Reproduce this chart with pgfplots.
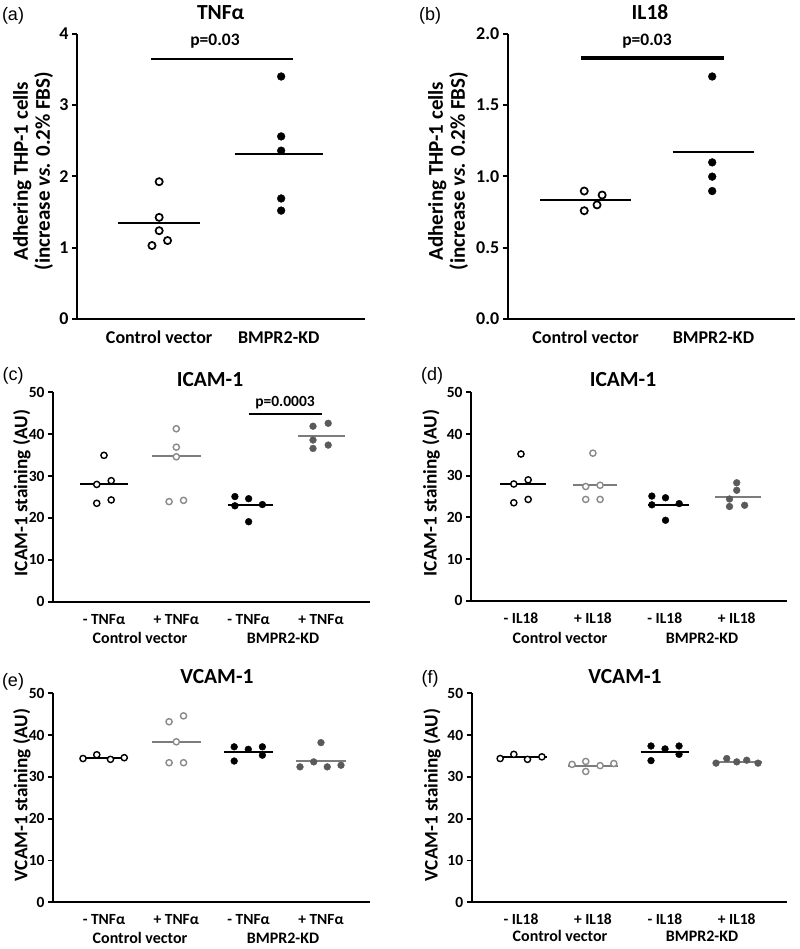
\documentclass[border=0pt]{standalone}
\usepackage{pgfplots}
\pgfplotsset{compat=1.18}
\usepackage{fontspec}
\setmainfont{Carlito}
\newfontfamily\lab{Liberation Sans}
\definecolor{og}{HTML}{8A8A8A}
\definecolor{fg}{HTML}{5A5A5A}
\definecolor{gl}{HTML}{7C7C7C}
\newcommand\fs[1]{\fontsize{#1bp}{#1bp}\selectfont}
\begin{document}
\begin{tikzpicture}
\useasboundingbox (0,0) rectangle (800bp,-949bp);
\pgfplotsset{
 panel/.style={scale only axis, anchor=south west, clip=false,
   axis x line*=bottom, axis y line*=left,
   axis line style={line width=2.2bp, black},
   tick align=outside, major tick length=5bp,
   ytick style={line width=1.8bp, black},
   xtick style={draw=none},
   /pgf/number format/assume math mode=true,
   ymin=0},
 top/.style={panel, width=288bp, height=285.3bp, xtick={1,2},
   xticklabels={Control vector,BMPR2-KD},
   tick label style={font=\bfseries\fs{18}},
   xticklabel style={anchor=base, inner sep=0pt, yshift=-19.3bp}},
 bot/.style={panel, xtick={1,2,3,4}, ymax=50, ytick={0,10,...,50},
   yticklabel style={font=\bfseries\fs{15.5}},
   xticklabel style={font=\bfseries\fs{15.5}, anchor=base, inner sep=0pt, yshift=-17.5bp}},
 ob/.style={only marks, mark=*, mark size=3.1bp, mark options={draw=black, fill=white, line width=1.4bp}},
 obig/.style={only marks, mark=*, mark size=3.6bp, mark options={draw=black, fill=white, line width=1.7bp}},
 og/.style={only marks, mark=*, mark size=3.1bp, mark options={draw=og, fill=white, line width=1.4bp}},
 fb/.style={only marks, mark=*, mark size=#1, mark options={draw=black, fill=black}},
 fb/.default=3.4bp,
 fg/.style={only marks, mark=*, mark size=3.4bp, mark options={draw=fg, fill=fg}},
 ml/.style={line width=2bp, black},
 mg/.style={line width=2bp, gl},
}
% ---------------- (a)
\begin{axis}[top, at={(77bp,-319bp)}, xmin=0.313, xmax=2.721, ymax=4, ytick={0,1,2,3,4}]
\addplot[ml] coordinates {(0.658,1.346) (1.341,1.346)};
\addplot[ml] coordinates {(1.636,2.31) (2.367,2.31)};
\addplot[ml] coordinates {(0.931,3.65) (2.116,3.65)};
\addplot[obig] coordinates {(1.0,1.925) (1.0,1.425) (1.0,1.238) (0.94,1.03) (1.07,1.10)};
\addplot[fb=3.9bp] coordinates {(2.02,3.40) (2.02,2.56) (2.02,2.36) (2.02,1.69) (2.02,1.52)};
\end{axis}
% ---------------- (b)
\begin{axis}[top, at={(507.7bp,-319bp)}, width=287.3bp, xmin=0.392, xmax=2.637, ymax=2, ytick={0,0.5,...,2},
  yticklabel style={/pgf/number format/.cd, fixed, fixed zerofill, precision=1}]
\addplot[ml] coordinates {(0.645,0.832) (1.355,0.832)};
\addplot[ml] coordinates {(1.681,1.173) (2.319,1.173)};
\addplot[line width=3.6bp, black] coordinates {(0.965,1.83) (2.084,1.83)};
\addplot[obig] coordinates {(0.99,0.897) (1.13,0.869) (1.09,0.80) (0.99,0.759)};
\addplot[fb=3.9bp] coordinates {(1.99,1.70) (1.99,1.098) (1.99,0.998) (1.99,0.897)};
\end{axis}
% ---------------- (c)
\begin{axis}[bot, at={(53bp,-601.7bp)}, width=317bp, height=209.4bp, xmin=0.295, xmax=4.678,
  xticklabels={{- TNFα},{+ TNFα},{- TNFα},{+ TNFα}}]
\addplot[ml] coordinates {(0.668,28.0) (1.327,28.0)};
\addplot[mg] coordinates {(1.659,34.7) (2.341,34.7)};
\addplot[ml] coordinates {(2.71,23.1) (3.332,23.1)};
\addplot[mg] coordinates {(3.686,39.5) (4.332,39.5)};
\addplot[line width=1.5bp, black] coordinates {(3.005,44.8) (4.014,44.8)};
\addplot[ob] coordinates {(1.0,34.95) (1.10,28.9) (0.90,28.0) (0.90,23.5) (1.10,24.3)};
\addplot[og] coordinates {(2.0,41.3) (2.0,36.9) (2.0,34.6) (1.90,23.9) (2.10,24.2)};
\addplot[fb] coordinates {(2.81,25.1) (3.0,24.6) (2.81,22.9) (3.19,23.2) (3.0,19.1)};
\addplot[fg] coordinates {(3.89,41.9) (4.10,42.6) (3.89,38.6) (3.89,36.6) (4.10,37.4)};
\end{axis}
% ---------------- (d)
\begin{axis}[bot, at={(471bp,-600.7bp)}, width=315.7bp, height=208.4bp, xmin=0.305, xmax=4.695,
  xticklabels={{- IL18},{+ IL18},{- IL18},{+ IL18}}]
\addplot[ml] coordinates {(0.708,28.0) (1.343,28.0)};
\addplot[mg] coordinates {(1.72,27.8) (2.331,27.8)};
\addplot[ml] coordinates {(2.771,23.0) (3.341,23.0)};
\addplot[mg] coordinates {(3.70,24.8) (4.338,24.8)};
\addplot[ob] coordinates {(1.0,35.2) (1.10,29.0) (0.90,28.0) (0.90,23.5) (1.10,24.3)};
\addplot[og] coordinates {(2.0,35.4) (1.90,27.4) (2.10,27.7) (1.90,24.3) (2.10,24.3)};
\addplot[fb] coordinates {(2.82,25.1) (3.01,24.7) (2.82,23.0) (3.20,23.3) (3.01,19.3)};
\addplot[fg] coordinates {(4.0,28.3) (4.0,26.5) (3.90,24.4) (3.90,22.6) (4.11,22.9)};
\end{axis}
% ---------------- (e)
\begin{axis}[bot, at={(53bp,-902.3bp)}, width=317bp, height=209bp, xmin=0.295, xmax=4.678,
  xticklabels={{- TNFα},{+ TNFα},{- TNFα},{+ TNFα}}]
\addplot[ml] coordinates {(0.668,34.6) (1.336,34.6)};
\addplot[mg] coordinates {(1.659,38.4) (2.341,38.4)};
\addplot[ml] coordinates {(2.66,36.0) (3.33,36.0)};
\addplot[mg] coordinates {(3.654,33.8) (4.346,33.8)};
\addplot[ob] coordinates {(0.71,34.4) (0.90,35.3) (1.09,34.2) (1.28,34.6)};
\addplot[og] coordinates {(1.90,43.2) (2.10,44.6) (2.0,38.4) (1.90,33.4) (2.10,33.4)};
\addplot[fb] coordinates {(2.80,37.2) (2.995,36.6) (3.19,37.2) (2.80,33.8) (3.19,35.2)};
\addplot[fg] coordinates {(4.0,38.2) (3.71,32.4) (3.90,33.6) (4.087,32.4) (4.277,32.8)};
\end{axis}
% ---------------- (f)
\begin{axis}[bot, at={(471.7bp,-902.3bp)}, width=315bp, height=209bp, xmin=0.314, xmax=4.695,
  xticklabels={{- IL18},{+ IL18},{- IL18},{+ IL18}}]
\addplot[ml] coordinates {(0.662,34.7) (1.357,34.7)};
\addplot[mg] coordinates {(1.658,32.7) (2.353,32.7)};
\addplot[ml] coordinates {(2.665,36.0) (3.341,36.0)};
\addplot[mg] coordinates {(3.67,33.6) (4.35,33.6)};
\addplot[ob] coordinates {(0.71,34.4) (0.90,35.4) (1.09,34.2) (1.29,34.8)};
\addplot[og] coordinates {(1.71,33.0) (1.90,33.7) (1.90,31.3) (2.10,32.7) (2.29,33.2)};
\addplot[fb] coordinates {(2.808,37.4) (3.003,36.7) (3.198,37.4) (2.808,33.9) (3.198,35.4)};
\addplot[fg] coordinates {(3.712,33.3) (3.861,34.4) (4.0,33.6) (4.139,34.0) (4.296,33.3)};
\end{axis}
% ---------------- texts
\begin{scope}[every node/.style={inner sep=0pt}]
% panel letters
\node[anchor=base, font=\lab\fs{18}] at (13bp,-20bp) {(a)};
\node[anchor=base, font=\lab\fs{18}] at (430bp,-20bp) {(b)};
\node[anchor=base, font=\lab\fs{18}] at (13bp,-380bp) {(c)};
\node[anchor=base, font=\lab\fs{18}] at (432bp,-380bp) {(d)};
\node[anchor=base, font=\lab\fs{18}] at (13bp,-686.7bp) {(e)};
\node[anchor=base, font=\lab\fs{18}] at (430bp,-683.3bp) {(f)};
% titles
\node[anchor=base, font=\bfseries\fs{21.5}] at (220.7bp,-19.3bp) {TNFα};
\node[anchor=base, font=\bfseries\fs{21.5}] at (650bp,-19.3bp) {IL18};
\node[anchor=base, font=\bfseries\fs{21.5}] at (210bp,-386.7bp) {ICAM-1};
\node[anchor=base, font=\bfseries\fs{21.5}] at (623bp,-386.7bp) {ICAM-1};
\node[anchor=base, font=\bfseries\fs{21.5}] at (217bp,-683.3bp) {VCAM-1};
\node[anchor=base, font=\bfseries\fs{21.5}] at (625bp,-683.3bp) {VCAM-1};
% p values
\node[anchor=base, font=\bfseries\fs{17.5}] at (215bp,-45bp) {p=0.03};
\node[anchor=base, font=\bfseries\fs{17.5}] at (647bp,-45bp) {p=0.03};
\node[anchor=base, font=\bfseries\fs{15.5}] at (285bp,-406bp) {p=0.0003};
% y labels
\node[rotate=90, align=center, font=\bfseries\fontsize{21bp}{22bp}\selectfont] at (33bp,-171bp) {Adhering THP-1 cells\\(increase \textit{vs.} 0.2\% FBS)};
\node[rotate=90, align=center, font=\bfseries\fontsize{21bp}{22bp}\selectfont] at (448bp,-171bp) {Adhering THP-1 cells\\(increase \textit{vs.} 0.2\% FBS)};
\node[rotate=90, font=\bfseries\fs{19.2}] at (22bp,-493bp) {ICAM-1 staining (AU)};
\node[rotate=90, font=\bfseries\fs{19.2}] at (431bp,-493bp) {ICAM-1 staining (AU)};
\node[rotate=90, font=\bfseries\fs{19.2}] at (22bp,-795bp) {VCAM-1 staining (AU)};
\node[rotate=90, font=\bfseries\fs{19.2}] at (432bp,-795bp) {VCAM-1 staining (AU)};
% group labels
\node[anchor=base, font=\bfseries\fs{16}] at (140bp,-643.3bp) {Control vector};
\node[anchor=base, font=\bfseries\fs{16}] at (283bp,-643.3bp) {BMPR2-KD};
\node[anchor=base, font=\bfseries\fs{16}] at (560bp,-643.3bp) {Control vector};
\node[anchor=base, font=\bfseries\fs{16}] at (702bp,-643.3bp) {BMPR2-KD};
\node[anchor=base, font=\bfseries\fs{16}] at (140bp,-943.3bp) {Control vector};
\node[anchor=base, font=\bfseries\fs{16}] at (283bp,-943.3bp) {BMPR2-KD};
\node[anchor=base, font=\bfseries\fs{16}] at (560bp,-941.7bp) {Control vector};
\node[anchor=base, font=\bfseries\fs{16}] at (702bp,-941.7bp) {BMPR2-KD};
\end{scope}
\end{tikzpicture}
\end{document}
